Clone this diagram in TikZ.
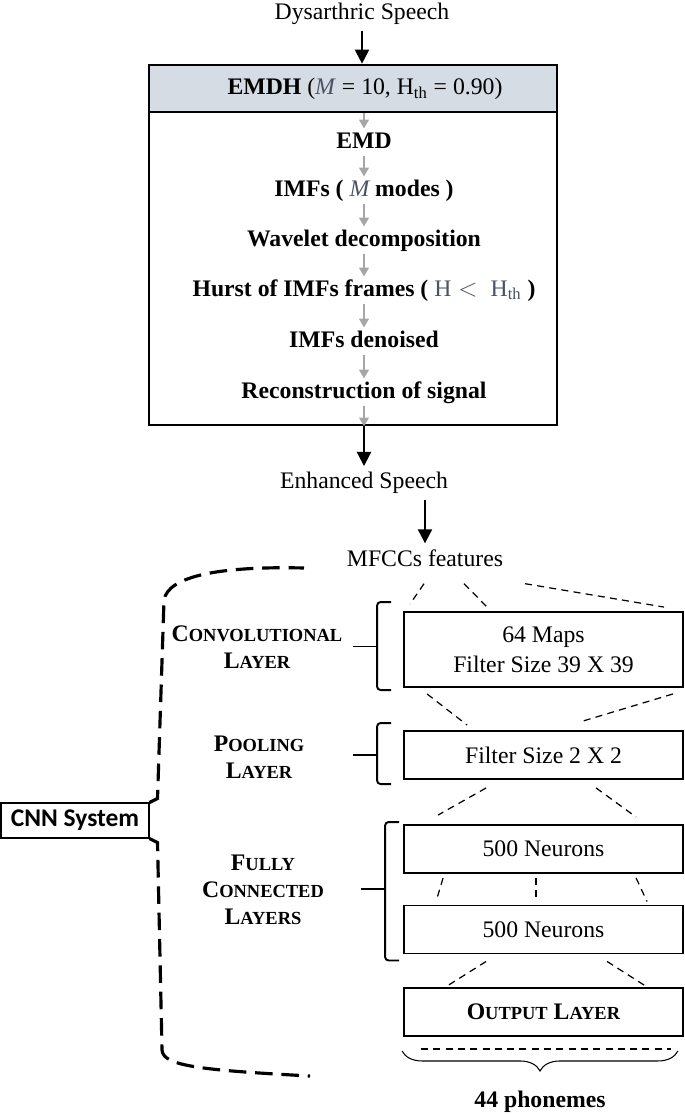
\documentclass[tikz,border=0pt]{standalone}
\usepackage{fontspec}
\setmainfont{Liberation Serif}
\newfontfamily\cnnfont{Carlito}
\usetikzlibrary{arrows.meta,calc,decorations.pathreplacing}
\definecolor{hdrfill}{HTML}{D6DCE4}
\definecolor{flowgrey}{HTML}{A6A6A6}
\definecolor{mathgrey}{HTML}{4A5266}
\newcommand{\layercap}[2]{#1{\fontsize{10.5}{12}\selectfont #2}}

\begin{document}
\begin{tikzpicture}[x=0.02cm,y=-0.02cm,
  font=\fontsize{13.5}{16}\selectfont,
  stepnode/.style={font=\fontsize{13.5}{16}\selectfont\bfseries, text height=9.5pt, text depth=2.5pt, inner sep=1.5pt},
  flow/.style={-{Triangle[width=5.5pt,length=5pt]}, line width=1.1pt, draw=flowgrey, fill=flowgrey},
  mainarrow/.style={-{Triangle[width=8pt,length=8pt]}, line width=1.2pt},
  layerbox/.style={draw, line width=1.1pt, minimum width=5.58cm, minimum height=0.96cm, align=center, inner sep=1pt},
  layerlbl/.style={align=center, font=\fontsize{13.5}{15.5}\selectfont\bfseries},
  fan/.style={line width=0.7pt, dash pattern=on 4pt off 3pt},
  layerbrk/.style={line width=1.1pt, rounded corners=2pt},
  bigbrace/.style={line width=1.8pt, dash pattern=on 10pt off 5pt}]
\useasboundingbox (0,0) rectangle (685,1114);

% EMDH block
\node (dys) at (362,14) {Dysarthric Speech};
\node[draw, line width=1.5pt, fill=hdrfill, minimum width=8.16cm, minimum height=0.94cm, inner sep=0pt] (emdh) at (353,88.5) {};
\node (emdhtitle) at (365,89) {\textbf{EMDH} (\textcolor{mathgrey}{\textit{M}} = 10, $\mathrm{H}_{\mathrm{th}}$ = 0.90)};
\node[draw, line width=1.5pt, minimum width=8.16cm, minimum height=6.26cm, inner sep=0pt] (emdbody) at (353,268.5) {};

\node[stepnode] (s1) at (364,142) {EMD};
\node[stepnode] (s2) at (364,190) {IMFs ( {\mdseries\itshape\color{mathgrey}M} modes )};
\node[stepnode] (s3) at (364,240) {Wavelet decomposition};
\node[stepnode] (s4) at (364,290) {Hurst of IMFs frames ( \textcolor{mathgrey}{$\mathrm{H} <\ \mathrm{H}_{\mathrm{th}}$} )};
\node[stepnode] (s5) at (364,341) {IMFs denoised};
\node[stepnode] (s6) at (364,392) {Reconstruction of signal};

\draw[mainarrow] (dys.south) -- (dys.south |- emdh.north);
\draw[flow] (emdh.south -| s1) -- (s1.north);
\draw[flow] (s1.south) -- (s2.north);
\draw[flow] (s2.south) -- (s3.north);
\draw[flow] (s3.south) -- (s4.north);
\draw[flow] (s4.south) -- (s5.north);
\draw[flow] (s5.south) -- (s6.north);
\draw[flow] (s6.south) -- (s6.south |- emdbody.south);

\node (enh) at (364,483) {Enhanced Speech};
\node (mfcc) at (425,558) {MFCCs features};
\draw[mainarrow] (emdbody.south -| enh) -- (enh.north);
\draw[mainarrow] (enh.south -| mfcc) -- (mfcc.north);

% CNN layers
\node[layerbox, minimum height=1.5cm] (conv) at (543.5,649.5) {64 Maps\\[1pt]Filter Size 39 X 39};
\node[layerbox] (pool) at (543.5,755) {Filter Size 2 X 2};
\node[layerbox] (fc1) at (543.5,849) {500 Neurons};
\node[layerbox] (fc2) at (543.5,929.5) {500 Neurons};
\node[layerbox] (out) at (543.5,1012) {\textbf{\layercap{O}{UTPUT} \layercap{L}{AYER}}};

\draw[fan] ($(mfcc.south)+(-1,11)$) -- ($(conv.north west)+(7,-7)$);
\draw[fan] ($(mfcc.south)+(39,11)$) -- ($(conv.north west)+(84,-4)$);
\draw[fan] ($(mfcc.south)+(100,11)$) -- ($(conv.north east)+(-20,-4)$);
\draw[fan] ($(conv.south west)+(24,6)$) -- ($(pool.north west)+(64,-5)$);
\draw[fan] ($(conv.south east)+(-11,6)$) -- ($(pool.north east)+(-101,-9)$);
\draw[fan] ($(pool.south west)+(83,8)$) -- ($(fc1.north west)+(35,-9)$);
\draw[fan] ($(pool.south west)+(193,8)$) -- ($(fc1.north west)+(233,-7)$);
\draw[fan] ($(fc1.south west)+(40,4)$) -- ($(fc2.north west)+(33,-3)$);
\draw[fan] ($(fc1.south west)+(133,4)$) -- ($(fc2.north west)+(133,-3)$);
\draw[fan] ($(fc1.south west)+(233,4)$) -- ($(fc2.north west)+(244,-3)$);
\draw[fan] ($(fc2.south west)+(83,7)$) -- ($(out.north west)+(44,-1)$);
\draw[fan] ($(fc2.south west)+(204,7)$) -- ($(out.north west)+(241,-2)$);

% output classes
\draw[fan] ($(out.south west)+(18,12)$) -- ($(out.south east)+(-13,12)$);
\draw[line width=0.6pt, decorate, decoration={brace, mirror, amplitude=0.4cm}]
  ($(out.south west)+(-1,14)$) -- ($(out.south east)+(-6,14)$);
\node[font=\fontsize{13.5}{16}\selectfont\bfseries] (phon) at (540,1102) {44 phonemes};

% layer labels and brackets
\node[layerlbl] (convlbl) at (257,647) {\layercap{C}{ONVOLUTIONAL}\\\layercap{L}{AYER}};
\node[layerlbl] (poollbl) at (259,757) {\layercap{P}{OOLING}\\\layercap{L}{AYER}};
\node[layerlbl] (fclbl) at (263,890) {\layercap{F}{ULLY}\\\layercap{C}{ONNECTED}\\\layercap{L}{AYERS}};

\draw[layerbrk] ($(conv.north west)+(-12,-9)$) -- ++(-14,0) -- ++(0,88) -- ++(14,0);
\draw[layerbrk] ($(conv.west)+(-26,-3)$) -- ++(-24,0);
\draw[layerbrk] ($(pool.north west)+(-12,-7)$) -- ++(-14,0) -- ++(0,61) -- ++(14,0);
\draw[layerbrk] ($(pool.west)+(-26,0)$) -- ++(-24,0);
\draw[layerbrk] ($(fc1.north west)+(-4,-2)$) -- ++(-14,0) |- ($(fc2.south west)+(-4,6)$);
\draw[layerbrk] ($($(fc1.south west)!0.5!(fc2.north west)$)+(-18,0)$) -- ++(-24,0);

% CNN system
\node[draw, line width=0.6pt, minimum width=2.96cm, minimum height=0.7cm, inner sep=0pt,
  font=\cnnfont\bfseries\fontsize{14.5}{17}\selectfont] (cnn) at (75,820.5) {CNN System};
\draw[bigbrace] (cnn.north east) -- ++(8,-4) -- (164,600) .. controls (168,576) and (220,566) .. (304,568);
\draw[bigbrace] (cnn.south east) -- ++(8,4) -- (162,1050) .. controls (163,1066) and (200,1070) .. (310,1076);
\end{tikzpicture}
\end{document}
